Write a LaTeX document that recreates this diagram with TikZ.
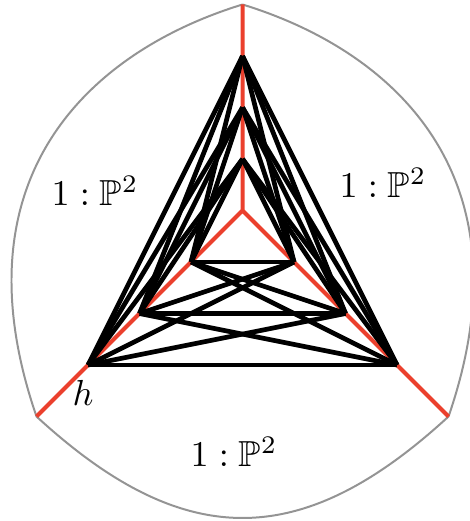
\documentclass[tikz,border=0pt]{standalone}
\usepackage{amssymb}
\definecolor{rayred}{RGB}{235,64,45}
\begin{document}
\begin{tikzpicture}[x=0.5cm,y=0.5cm,
  ray/.style={draw=rayred, line width=1.1pt},
  edge/.style={draw=black, line width=1.3pt},
  rim/.style={draw=black!42, line width=0.55pt},
  lab/.style={inner sep=0pt}]
\useasboundingbox (-4.709,-6.029) rectangle (4.417,4.087);
\coordinate (o) at (0,0);
\coordinate (t) at (0,4);
\coordinate (l) at (-4,-4);
\coordinate (r) at (4,-4);
\foreach \k in {1,2,3} {
  \coordinate (a\k) at (0,\k);
  \coordinate (b\k) at (-\k,-\k);
  \coordinate (c\k) at (\k,-\k);
}
\draw[rim] (t) .. controls (-2.87,3.12) and (-5.63,0.73) .. (l)
  .. controls (-1.145,-6.627) and (1.145,-6.627) .. (r)
  .. controls (5.63,0.73) and (2.87,3.12) .. (t);
\draw[ray] (o) -- (t) (o) -- (l) (o) -- (r);
\foreach \i in {1,2,3} \foreach \j in {1,2,3} {
  \draw[edge] (a\i) -- (b\j);
  \draw[edge] (a\i) -- (c\j);
  \draw[edge] (b\i) -- (c\j);
}
\node[lab] (pl) at (-2.864,0.379) {$1:\mathbb{P}^2$};
\node[lab] (pr) at (2.728,0.534) {$1:\mathbb{P}^2$};
\node[lab] (pb) at (-0.165,-4.689) {$1:\mathbb{P}^2$};
\node[lab] (h) at (-3.097,-3.544) {$h$};
\end{tikzpicture}
\end{document}
